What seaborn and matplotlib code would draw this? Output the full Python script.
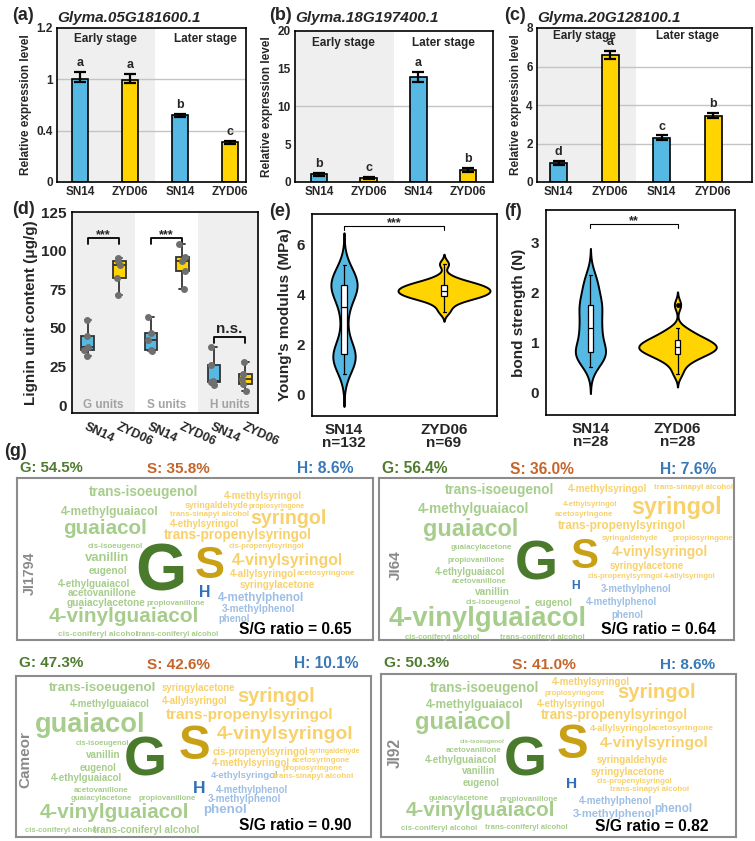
import numpy as np
import pandas as pd
import matplotlib
matplotlib.use('Agg')
import matplotlib.pyplot as plt
import seaborn as sns

# ---------------- data ----------------
# (a)-(c) relative expression (qRT-PCR)
expr_keys = ['SN14_early', 'ZYD06_early', 'SN14_later', 'ZYD06_later']
expr_lines = ['SN14', 'ZYD06', 'SN14', 'ZYD06']
genes = ['Glyma.05G181600.1', 'Glyma.18G197400.1', 'Glyma.20G128100.1']
expr_a = [1.0, 0.99, 0.58, 0.31]
err_a = [0.03, 0.03, 0.015, 0.01]
let_a = ['a', 'a', 'b', 'c']
expr_b = [1.0, 0.5, 13.9, 1.6]
err_b = [0.25, 0.15, 0.7, 0.25]
let_b = ['b', 'c', 'a', 'b']
expr_c = [1.0, 6.6, 2.3, 3.45]
err_c = [0.1, 0.2, 0.12, 0.15]
let_c = ['d', 'a', 'c', 'b']

# (d) lignin monomer content (ug/g), 5 reps
lignin_units = ['G units', 'S units', 'H units']
g_sn14 = [32, 36, 38, 45, 55]
g_zyd06 = [71, 82, 91, 93, 95]
s_sn14 = [35, 36, 42, 47, 57]
s_zyd06 = [75, 87, 93, 96, 104]
h_sn14 = [13, 15, 16, 26, 38]
h_zyd06 = [9, 14, 17, 20, 28]

# (e) Young's modulus (MPa), (f) bond strength (N)
ym_sn14 = [0.8, 1.0, 1.1, 1.2, 1.3, 1.35, 1.4, 1.45, 1.5, 1.55, 1.6, 1.65, 1.7,
           1.8, 1.9, 2.05, 2.4, 2.8, 3.1, 3.4, 3.6, 3.85, 3.95, 4.05, 4.1, 4.15,
           4.2, 4.25, 4.3, 4.35, 4.4, 4.45, 4.5, 4.55, 4.6, 4.7, 4.8, 4.9, 5.0, 5.15]
ym_zyd06 = [3.3, 3.55, 3.7, 3.8, 3.85, 3.9, 3.92, 3.95, 4.0, 4.05, 4.1, 4.12,
            4.15, 4.18, 4.2, 4.25, 4.3, 4.35, 4.4, 4.42, 4.45, 4.55, 4.7, 5.2]
ym_n = [132, 69]
bond_sn14 = [0.5, 0.6, 0.68, 0.72, 0.75, 0.77, 0.78, 0.8, 0.88, 0.95, 1.0, 1.1,
             1.2, 1.25, 1.3, 1.35, 1.45, 1.55, 1.62, 1.7, 1.74, 1.76, 1.85,
             1.95, 2.05, 2.15, 2.25, 2.35]
bond_zyd06 = [0.36, 0.5, 0.6, 0.65, 0.7, 0.72, 0.75, 0.78, 0.8, 0.83, 0.85,
              0.87, 0.88, 0.9, 0.9, 0.92, 0.95, 0.97, 1.0, 1.02, 1.05, 1.06,
              1.08, 1.12, 1.18, 1.22, 1.28, 1.75]
bond_n = [28, 28]

# (g) lignin composition per accession
accessions = ['JI1794', 'JI64', 'Cameor', 'JI92']
g_share = [54.5, 56.4, 47.3, 50.3]
s_share = [35.8, 36.0, 42.6, 41.0]
h_share = [8.6, 7.6, 10.1, 8.6]
sg_ratio = [0.65, 0.64, 0.90, 0.82]

# word cloud layout: (word, unit, left, right, y) measured on a 3x crop
words_ji1794 = [
    ('trans-isoeugenol', 'g', 265, 595, 105), ('4-methylsyringol', 's', 670, 905, 120),
    ('syringaldehyde', 's', 555, 745, 150), ('propiosyringone', 's', 745, 915, 150),
    ('4-methylguaiacol', 'g', 185, 475, 165), ('trans-sinapyl alcohol', 's', 510, 745, 176),
    ('syringol', 's', 750, 980, 185), ('guaiacol', 'g', 190, 440, 215),
    ('4-ethylsyringol', 's', 510, 720, 203), ('trans-propenylsyringol', 's', 490, 935, 236),
    ('cis-isoeugenol', 'g', 265, 430, 270), ('cis-propenylsyringol', 's', 685, 915, 272),
    ('vanillin', 'g', 255, 390, 305), ('G', 'G', 405, 560, 335), ('S', 'S', 585, 675, 320),
    ('4-vinylsyringol', 's', 695, 1030, 313), ('eugenol', 'g', 265, 380, 345),
    ('4-allylsyringol', 's', 690, 890, 355), ('acetosyringone', 's', 890, 1065, 352),
    ('4-ethylguaiacol', 'g', 175, 390, 384), ('syringylacetone', 's', 720, 945, 387),
    ('acetovanillone', 'g', 205, 410, 412), ('H', 'H', 598, 632, 408),
    ('4-methylphenol', 'h', 655, 912, 425), ('guaiacylacetone', 'g', 200, 435, 440),
    ('propiovanillone', 'g', 440, 615, 443), ('4-vinylguaiacol', 'g', 145, 595, 478),
    ('3-methylphenol', 'h', 665, 885, 460), ('phenol', 'h', 655, 750, 490),
    ('cis-coniferyl alcohol', 'g', 175, 410, 535), ('trans-coniferyl alcohol', 'g', 410, 655, 535),
]
words_ji64 = [
    ('trans-isoeugenol', 'g', 210, 540, 100), ('4-methylsyringol', 's', 580, 818, 100),
    ('trans-sinapyl alcohol', 's', 838, 1072, 95), ('4-methylguaiacol', 'g', 130, 462, 157),
    ('4-ethylsyringol', 's', 565, 728, 146), ('syringol', 's', 770, 1042, 150),
    ('acetosyringone', 's', 540, 715, 175), ('guaiacol', 'g', 145, 430, 215),
    ('trans-propenylsyringol', 's', 550, 935, 210), ('syringaldehyde', 's', 680, 852, 248),
    ('propiosyringone', 's', 890, 1075, 248), ('guaiacylacetone', 'g', 228, 410, 275),
    ('G', 'G', 418, 548, 315), ('S', 'S', 588, 672, 292),
    ('4-vinylsyringol', 's', 710, 998, 287), ('propiovanillone', 'g', 218, 390, 312),
    ('syringylacetone', 's', 705, 928, 330), ('4-ethylguaiacol', 'g', 180, 390, 348),
    ('cis-propenylsyringol', 's', 638, 865, 362), ('4-allylsyringol', 's', 865, 1022, 360),
    ('acetovanillone', 'g', 232, 395, 377), ('H', 'H', 588, 614, 388),
    ('3-methylphenol', 'h', 678, 890, 398), ('vanillin', 'g', 300, 404, 407),
    ('cis-isoeugenol', 'g', 272, 437, 440), ('eugenol', 'g', 478, 592, 440),
    ('4-methylphenol', 'h', 632, 846, 437), ('4-vinylguaiacol', 'g', 42, 635, 482),
    ('phenol', 'h', 708, 804, 476), ('cis-coniferyl alcohol', 'g', 90, 315, 545),
    ('trans-coniferyl alcohol', 'g', 375, 627, 545),
]
words_cameor = [
    ('trans-isoeugenol', 'g', 148, 470, 125), ('syringylacetone', 's', 485, 705, 125),
    ('syringol', 's', 710, 945, 148), ('4-methylguaiacol', 'g', 210, 448, 175),
    ('4-allylsyringol', 's', 485, 683, 165), ('guaiacol', 'g', 105, 435, 230),
    ('trans-propenylsyringol', 's', 498, 1003, 207), ('4-vinylsyringol', 's', 650, 1060, 262),
    ('cis-isoeugenol', 'g', 228, 388, 292), ('G', 'G', 370, 500, 332), ('S', 'S', 535, 630, 290),
    ('vanillin', 'g', 258, 360, 328), ('cis-propenylsyringol', 's', 635, 925, 317),
    ('syringaldehyde', 's', 925, 1080, 317), ('eugenol', 'g', 240, 350, 365),
    ('4-methylsyringol', 's', 635, 870, 352), ('acetosyringone', 's', 875, 1050, 342),
    ('propiosyringone', 's', 848, 1030, 367), ('4-ethylguaiacol', 'g', 152, 365, 397),
    ('4-ethylsyringol', 'h', 632, 835, 390), ('trans-sinapyl alcohol', 's', 820, 1060, 390),
    ('H', 'H', 578, 615, 425), ('acetovanillone', 'g', 222, 385, 432),
    ('4-methylphenol', 'h', 648, 865, 432), ('guaiacylacetone', 'g', 212, 395, 458),
    ('propiovanillone', 'g', 415, 588, 456), ('3-methylphenol', 'h', 625, 843, 460),
    ('4-vinylguaiacol', 'g', 120, 565, 495), ('phenol', 'h', 610, 742, 492),
    ('cis-coniferyl alcohol', 'g', 75, 295, 555), ('trans-coniferyl alcohol', 'g', 280, 598, 552),
]
words_ji92 = [
    ('trans-isoeugenol', 'g', 165, 495, 125), ('4-methylsyringol', 's', 530, 765, 108),
    ('syringol', 's', 725, 962, 138), ('propiosyringone', 's', 508, 690, 143),
    ('4-methylguaiacol', 'g', 155, 445, 175), ('4-ethylsyringol', 's', 485, 690, 173),
    ('trans-propenylsyringol', 's', 498, 940, 205), ('guaiacol', 'g', 120, 408, 225),
    ('4-allylsyringol', 's', 645, 830, 248), ('acetosyringone', 's', 830, 1015, 248),
    ('G', 'G', 385, 515, 330), ('S', 'S', 545, 640, 285),
    ('cis-isoeugenol', 'g', 255, 388, 288), ('4-vinylsyringol', 's', 675, 1002, 290),
    ('acetovanillone', 'g', 212, 378, 313), ('4-ethylguaiacol', 'g', 150, 365, 342),
    ('syringaldehyde', 's', 665, 882, 342), ('vanillin', 'g', 262, 362, 375),
    ('syringylacetone', 's', 648, 870, 377), ('eugenol', 'g', 262, 373, 412),
    ('H', 'H', 572, 605, 412), ('cis-propenylsyringol', 's', 665, 893, 407),
    ('trans-sinapyl alcohol', 's', 705, 942, 430), ('guaiacylacetone', 'g', 160, 340, 457),
    ('propiovanillone', 'g', 372, 548, 460), ('4-methylphenol', 'h', 612, 830, 465),
    ('phenol', 'h', 838, 952, 487), ('4-vinylguaiacol', 'g', 95, 540, 490),
    ('3-methylphenol', 'h', 595, 842, 505), ('cis-coniferyl alcohol', 'g', 78, 305, 548),
    ('trans-coniferyl alcohol', 'g', 328, 578, 545),
]
cloud_words = [words_ji1794, words_ji64, words_cameor, words_ji92]
cloud_origin = [(0, 455), (375, 455), (0, 645), (375, 645)]
cloud_frame = [(50, 68, 1118, 555), (12, 68, 1078, 555), (47, 92, 1112, 575), (18, 88, 1083, 575)]
cloud_head = [[(60, 250, 35), (440, 630, 38), (890, 1060, 35)],
              [(20, 218, 35), (405, 598, 40), (855, 1025, 38)],
              [(55, 250, 50), (440, 630, 55), (880, 1075, 52)],
              [(25, 222, 50), (410, 602, 55), (855, 1022, 55)]]
cloud_ratio = [(715, 1055, 520), (678, 1022, 520), (715, 1055, 537), (660, 1000, 540)]
cloud_side = [(90, 290, 420), (62, 285, 375), (75, 260, 430), (60, 280, 370)]

# ---------------- style ----------------
W, H = 755, 841
BLUE = '#55B9E4'
YELLOW = '#FFD400'
PAL = {'SN14': BLUE, 'ZYD06': YELLOW}
SHADE = '#EFEFEF'
HEAD = {'G': '#4F7B2E', 'S': '#C5652B', 'H': '#3A79B8'}
WORD = {'g': '#A6CD8B', 's': '#F8D16B', 'h': '#9EBFE5',
        'G': '#4A7A2B', 'S': '#C9A116', 'H': '#2F70B7'}

sns.set_theme(style='white')
plt.rcParams['font.family'] = ['Liberation Sans', 'DejaVu Sans']
plt.rcParams['font.weight'] = 'bold'
plt.rcParams['axes.labelweight'] = 'bold'
plt.rcParams['axes.edgecolor'] = 'black'

fig = plt.figure(figsize=(W / 100, H / 100), dpi=100)
renderer = fig.canvas.get_renderer()


def px_axes(l, t, r, b):
    return fig.add_axes([l / W, 1 - b / H, (r - l) / W, (b - t) / H])


def frame(ax, lw=1.2):
    for sp in ax.spines.values():
        sp.set_color('black')
        sp.set_linewidth(lw)


def bracket(ax, x0, x1, y, h, text, fs, lw, off=0):
    ax.plot([x0, x0, x1, x1], [y - h, y, y, y - h], color='black', lw=lw)
    ax.annotate(text, xy=((x0 + x1) / 2, y), xytext=(0, off), textcoords='offset points',
                ha='center', va='baseline', fontsize=fs, weight='bold')


def tag(x, y, s):
    fig.text(x / W, 1 - y / H, s, fontsize=13, weight='bold', ha='left', va='center')


def expr_panel(box, vals, errs, letters, gene, label, ylim, yticks, yticklabels,
               grid, xlim, stage_y=0.93, scale=None):
    ax = px_axes(*box)
    if scale is not None:
        ax.set_yscale('function', functions=scale)
    ax.axvspan(-1, 1.5, color=SHADE, lw=0, zorder=0)
    for g in grid:
        ax.axhline(g, color='#C4C4C4', lw=1.0, zorder=0.5)
    df = pd.DataFrame({'key': expr_keys, 'line': expr_lines, 'value': vals})
    sns.barplot(data=df, x='key', y='value', hue='line', palette=PAL, dodge=False,
                width=0.33, saturation=1, edgecolor='black', linewidth=1.2,
                errorbar=None, legend=False, ax=ax, zorder=2)
    ax.errorbar(range(4), vals, yerr=errs, fmt='none', ecolor='black',
                elinewidth=1.6, capsize=4.5, capthick=1.6, zorder=3)
    for i, (v, e, l) in enumerate(zip(vals, errs, letters)):
        ax.annotate(l, xy=(i, v + e), xytext=(0, 2), textcoords='offset points',
                    ha='center', va='bottom', fontsize=9, weight='bold')
    tr = ax.get_xaxis_transform()
    ax.text(0.5, stage_y, 'Early stage', transform=tr, ha='center', va='center', fontsize=8.5, weight='bold')
    ax.text(2.5, stage_y, 'Later stage', transform=tr, ha='center', va='center', fontsize=8.5, weight='bold')
    ax.set_xlim(*xlim)
    ax.set_ylim(*ylim)
    ax.set_yticks(yticks)
    ax.set_yticklabels(yticklabels, fontsize=8.5, weight='bold')
    ax.set_xticks(range(4))
    ax.set_xticklabels(expr_lines, fontsize=8.5, weight='bold')
    ax.tick_params(length=0, pad=3)
    ax.set_xlabel('')
    ax.set_ylabel('Relative expression level', fontsize=8.5, labelpad=3)
    frame(ax)
    fig.text(box[0] / W, 1 - 18 / H, gene, fontsize=11, weight='bold', style='italic',
             ha='left', va='center')
    tag(label[1], 15, label[0])
    return ax


# ---------------- (a)-(c) ----------------
knots_a = [0, 0.4, 1, 1.2]
scale_a = (lambda y: np.interp(y, knots_a, np.arange(4)),
           lambda u: np.interp(u, np.arange(4), knots_a))
expr_panel((57, 28, 246, 182), expr_a, err_a, let_a, genes[0], ('(a)', 12),
           (0, 1.2), knots_a, ['0', '0.4', '1', '1.2'], [0.4, 1], (-0.46, 3.32),
           stage_y=0.93, scale=scale_a)
expr_panel((295, 31, 493, 182), expr_b, err_b, let_b, genes[1], ('(b)', 269),
           (0, 20), [0, 5, 10, 15, 20], ['0', '5', '10', '15', '20'], [10], (-0.48, 3.5),
           stage_y=0.92)
expr_panel((537, 28, 752, 182), expr_c, err_c, let_c, genes[2], ('(c)', 504),
           (0, 8), [0, 2, 4, 6, 8], ['0', '2', '4', '6', '8'], [2, 4, 6], (-0.42, 3.75),
           stage_y=0.95)

# ---------------- (d) ----------------
d_keys = ['G_SN14', 'G_ZYD06', 'S_SN14', 'S_ZYD06', 'H_SN14', 'H_ZYD06']
d_vals = [g_sn14, g_zyd06, s_sn14, s_zyd06, h_sn14, h_zyd06]
d_df = pd.DataFrame([(k, k.split('_')[1], v) for k, vs in zip(d_keys, d_vals) for v in vs],
                    columns=['key', 'line', 'value'])
ax = px_axes(72, 212, 258, 413)
ax.axvspan(-1, 1.5, color=SHADE, lw=0, zorder=0)
ax.axvspan(3.5, 6, color=SHADE, lw=0, zorder=0)
sns.boxplot(data=d_df, x='key', y='value', order=d_keys, hue='line', palette=PAL, dodge=False,
            width=0.4, saturation=1, linecolor='#333333', linewidth=1.3, showfliers=False,
            legend=False, ax=ax)
np.random.seed(2)
sns.stripplot(data=d_df, x='key', y='value', order=d_keys, color='#6F6F6F', size=5,
              jitter=0.12, ax=ax, zorder=3)
for i, u in enumerate(lignin_units):
    ax.text(2 * i + 0.5, 0, u, color='#A3A3A3', ha='center', va='center', fontsize=8.5, weight='bold')
bracket(ax, 0, 1, 108, 3.5, '***', 9, 1.3)
bracket(ax, 2, 3, 108, 3.5, '***', 9, 1.3)
bracket(ax, 4, 5, 44, 3.5, 'n.s.', 11, 1.3, off=3)
ax.set_xlim(-0.5, 5.4)
ax.set_ylim(-5, 125)
ax.set_yticks([0, 25, 50, 75, 100, 125])
ax.tick_params(axis='y', labelsize=11, length=3, width=1, color='black', pad=1)
ax.set_xticks(range(6))
ax.set_xticklabels(['SN14', 'ZYD06'] * 3, rotation=-25, ha='left', rotation_mode='anchor',
                   fontsize=9, weight='bold')
ax.tick_params(axis='x', length=3, width=1, color='black', pad=3)
ax.set_xlabel('')
ax.set_ylabel('Lignin unit content (\u03bcg/g)', fontsize=11, labelpad=2)
frame(ax)
tag(12, 210, '(d)')


# ---------------- (e), (f) ----------------
def violin_panel(box, a, b, ns, ylabel, ylim, yticks, xlim, width, whis, brk, label):
    df = pd.DataFrame({'line': ['SN14'] * len(a) + ['ZYD06'] * len(b), 'value': a + b})
    ax = px_axes(*box)
    sns.violinplot(data=df, x='line', y='value', hue='line', palette=PAL, saturation=1,
                   inner=None, linecolor='black', linewidth=1.4, width=width, cut=2.5,
                   bw_adjust=0.75, density_norm='area', common_norm=True, legend=False, ax=ax)
    sns.boxplot(data=df, x='line', y='value', color='white', linecolor='black', linewidth=0.9,
                width=0.06, whis=whis, fliersize=2.5, flierprops={'marker': 'o', 'markerfacecolor': 'black'},
                ax=ax)
    bracket(ax, 0, 1, brk[0], brk[1], brk[2], 9, 0.8)
    ax.set_xlim(*xlim)
    ax.set_ylim(*ylim)
    ax.set_yticks(yticks)
    ax.set_xticks([0, 1])
    ax.set_xticklabels([f'SN14\nn={ns[0]}', f'ZYD06\nn={ns[1]}'], fontsize=11, weight='bold',
                       linespacing=0.95)
    ax.tick_params(labelsize=11, length=3, width=1, color='black', pad=2)
    ax.set_xlabel('')
    ax.set_ylabel(ylabel, fontsize=11, labelpad=3)
    frame(ax)
    tag(label[1], 212, label[0])
    return ax


violin_panel((312, 214, 497, 416), ym_sn14, ym_zyd06, ym_n, "Young's modulus (MPa)",
             (-0.88, 7.2), [0, 2, 4, 6], (-0.32, 1.53), 0.92, (0, 100),
             (6.72, 0.16, '***'), ('(e)', 269))
violin_panel((546, 210, 735, 415), bond_sn14, bond_zyd06, bond_n, 'bond strength (N)',
             (-0.46, 3.65), [0, 1, 2, 3], (-0.51, 1.66), 0.89, 1.5,
             (3.37, 0.08, '**'), ('(f)', 504))


# ---------------- (g) word clouds ----------------
def put_word(s, cx, cy, span, color, rot=0):
    t = fig.text(cx / W, 1 - cy / H, s, color=color, fontsize=10, weight='bold', rotation=rot,
                 ha='center', va='center_baseline' if rot == 0 else 'center', zorder=5)
    bb = t.get_window_extent(renderer)
    t.set_fontsize(10 * span / (bb.width if rot == 0 else bb.height))
    return t


tag(4, 452, '(g)')
for k, acc in enumerate(accessions):
    ox, oy = cloud_origin[k]
    fl, ft, fr, fb = cloud_frame[k]
    ax = px_axes(ox + fl / 3, oy + ft / 3, ox + fr / 3, oy + fb / 3)
    ax.set_xticks([])
    ax.set_yticks([])
    for sp in ax.spines.values():
        sp.set_color('#8C8C8C')
        sp.set_linewidth(1.5)
    heads = [f'G: {g_share[k]}%', f'S: {s_share[k]}%', f'H: {h_share[k]}%']
    for s, key, (x0, x1, y) in zip(heads, 'GSH', cloud_head[k]):
        put_word(s, ox + (x0 + x1) / 6, oy + y / 3, (x1 - x0) / 3, HEAD[key])
    for word, unit, x0, x1, y in cloud_words[k]:
        put_word(word, ox + (x0 + x1) / 6, oy + y / 3, (x1 - x0) / 3, WORD[unit])
    x0, x1, y = cloud_ratio[k]
    put_word(f'S/G ratio = {sg_ratio[k]:.2f}', ox + (x0 + x1) / 6, oy + y / 3, (x1 - x0) / 3, 'black')
    x, y0, y1 = cloud_side[k]
    put_word(acc, ox + x / 3, oy + (y0 + y1) / 6, (y1 - y0) / 3, '#8A8A8A', rot=90)

fig.savefig('out.png', dpi=100)
